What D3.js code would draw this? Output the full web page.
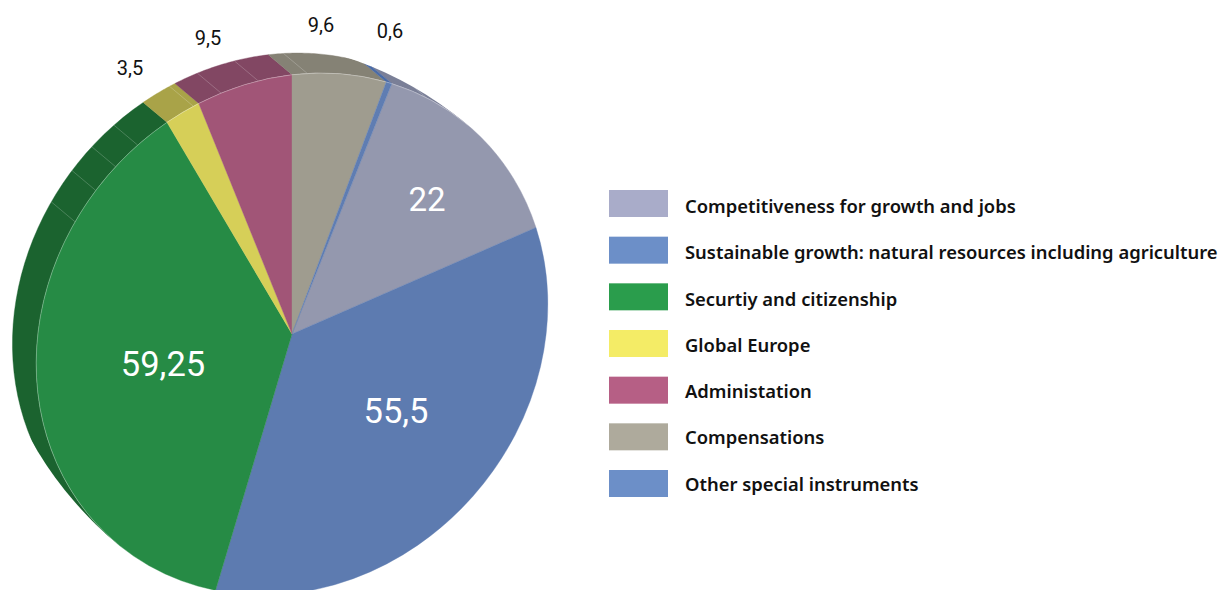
<!DOCTYPE html>
<html>
<head>
<meta charset="utf-8">
<script src="https://cdn.jsdelivr.net/npm/d3@7/dist/d3.min.js"></script>
<style>
html,body{margin:0;padding:0;background:#fff;overflow:hidden}
svg{display:block}
</style>
</head>
<body>
<svg id="chart" width="1219" height="590"></svg>
<script>
// Budget headings, clockwise around the tilted pie
const categories = [
  "Competitiveness for growth and jobs",
  "Sustainable growth: natural resources including agriculture",
  "Securtiy and citizenship",
  "Global Europe",
  "Administation",
  "Compensations",
  "Other special instruments"
];
const values = [22, 55.5, 59.25, 3.5, 9.5, 9.6, 0.6];

// Colours: key swatches, top face, and the darker side wall
const keyColors  = ["#a9acc9", "#6c8fc8", "#2a9d4c", "#f4ec66", "#b65f85", "#aeaa9c", "#6c8fc8"];
const faceColors = ["#9498ae", "#5d7bb0", "#268b45", "#d6cf58", "#a15577", "#9f9c8f", "#5f7db2"];
const wallColors = ["#7a7f97", "#4a6ba6", "#1b632f", "#a9a348", "#824763", "#858275", "#4a6ba6"];

// Value label placement (x, y of the text baseline centre) and style per slice
const labelX = [427, 396, 163, 130, 208, 321, 390];
const labelY = [211, 423, 376, 75, 45, 32, 38];
const labelSize = [33, 34.5, 34.5, 20, 20, 20, 20];
const labelFill = ["#fff", "#fff", "#fff", "#111", "#111", "#111", "#111"];

// Facet seams visible on the side wall, in degrees round the pie
const seamAngles = [298.7, 306.6, 313.1, 319.6, 334, 340.6, 349.1, 360.1, 388.4];

// Tilted disc: an ellipse whose long axis leans to the upper right.
// The side wall is the same ellipse pushed along the short axis, trimmed
// by a taller ellipse so that it tapers into the ends of the long axis.
const center = [292, 334];
const axisDeg = 40, semiMajor = 273, semiMinor = 243, wallDepth = 31, wallTrim = 320;
const startDeg = 19.65;
const R = 100;
const rad = d => d * Math.PI / 180;
const axisU = [Math.sin(rad(axisDeg)), -Math.cos(rad(axisDeg))];
const axisV = [-Math.cos(rad(axisDeg)), -Math.sin(rad(axisDeg))];

// Position on the disc rim for a pie angle, optionally raised by a wall depth
function rimPoint(deg, lift = 0) {
  const phi = rad(deg - axisDeg);
  const u = semiMajor * Math.cos(phi);
  const v = -semiMinor * Math.sin(phi) + lift;
  return [center[0] + u * axisU[0] + v * axisV[0], center[1] + u * axisU[1] + v * axisV[1]];
}

const svg = d3.select("#chart");
const defs = svg.append("defs");

const discTransform = minor =>
  `translate(${center[0]},${center[1]}) rotate(${axisDeg}) scale(${minor / R},${semiMajor / R}) rotate(${-axisDeg})`;

defs.append("clipPath").attr("id", "wallClip")
  .append("circle").attr("r", R).attr("transform", discTransform(wallTrim));

const pie = d3.pie().sort(null)
  .startAngle(rad(startDeg))
  .endAngle(rad(startDeg + 360));
const slices = pie(values);
const arc = d3.arc().innerRadius(0).outerRadius(R);

// The wall only shows on the upper-left side of the long axis
const wallWindows = [[axisDeg - 180, axisDeg], [axisDeg + 180, axisDeg + 360]];
const wallParts = [];
slices.forEach((s, i) => {
  const a0 = s.startAngle * 180 / Math.PI, a1 = s.endAngle * 180 / Math.PI;
  wallWindows.forEach(([w0, w1]) => {
    const lo = Math.max(a0, w0), hi = Math.min(a1, w1);
    if (hi > lo) wallParts.push({ lo, hi, index: i });
  });
});

const outline = d3.line();
const wallPath = d => {
  const steps = d3.range(0, 41).map(k => d.lo + (d.hi - d.lo) * k / 40);
  return outline([
    ...steps.map(a => rimPoint(a)),
    ...steps.slice().reverse().map(a => rimPoint(a, wallDepth))
  ]) + "Z";
};

const wall = svg.append("g").attr("clip-path", "url(#wallClip)");
wall.selectAll("path").data(wallParts).join("path")
  .attr("d", wallPath)
  .attr("fill", d => wallColors[d.index])
  .attr("stroke", d => wallColors[d.index])
  .attr("stroke-width", 0.4);

wall.selectAll("line").data(seamAngles).join("line")
  .attr("x1", a => rimPoint(a)[0])
  .attr("y1", a => rimPoint(a)[1])
  .attr("x2", a => rimPoint(a, wallDepth)[0])
  .attr("y2", a => rimPoint(a, wallDepth)[1])
  .attr("stroke", "rgba(255,255,255,0.3)")
  .attr("stroke-width", 0.7);

const face = svg.append("g").attr("transform", discTransform(semiMinor));
face.selectAll("path.slice").data(slices).join("path")
  .attr("class", "slice")
  .attr("d", arc)
  .attr("fill", (d, i) => faceColors[i])
  .attr("stroke", (d, i) => faceColors[i])
  .attr("stroke-width", 0.4)
  .attr("vector-effect", "non-scaling-stroke");

// Pale highlight along the rim where the top face meets the wall
face.selectAll("path.rim").data(wallParts).join("path")
  .attr("class", "rim")
  .attr("d", d => d3.arc()({ innerRadius: R, outerRadius: R, startAngle: rad(d.lo), endAngle: rad(d.hi) }))
  .attr("fill", "none")
  .attr("stroke", "rgba(255,255,255,0.22)")
  .attr("stroke-width", 0.7)
  .attr("vector-effect", "non-scaling-stroke");

// Value labels use a decimal comma
svg.append("g").selectAll("text").data(values).join("text")
  .attr("x", (d, i) => labelX[i])
  .attr("y", (d, i) => labelY[i])
  .attr("text-anchor", "middle")
  .attr("font-family", "Roboto, sans-serif")
  .attr("font-size", (d, i) => labelSize[i])
  .attr("fill", (d, i) => labelFill[i])
  .text(d => String(d).replace(".", ","));

// Key on the right: swatches and their captions run on slightly different pitches
const keyRow = d3.scalePoint().domain(categories).range([190, 470]);
const captionRow = d3.scalePoint().domain(categories).range([213, 490.5]);
const key = svg.append("g");
key.selectAll("rect").data(categories).join("rect")
  .attr("x", 609).attr("y", d => keyRow(d))
  .attr("width", 59).attr("height", 27)
  .attr("fill", (d, i) => keyColors[i]);
key.selectAll("text").data(categories).join("text")
  .attr("x", 685).attr("y", d => captionRow(d))
  .attr("font-family", "'Noto Sans', sans-serif")
  .attr("font-size", 18.4)
  .attr("font-weight", 600)
  .attr("fill", "#111")
  .text(d => d);
</script>
</body>
</html>
